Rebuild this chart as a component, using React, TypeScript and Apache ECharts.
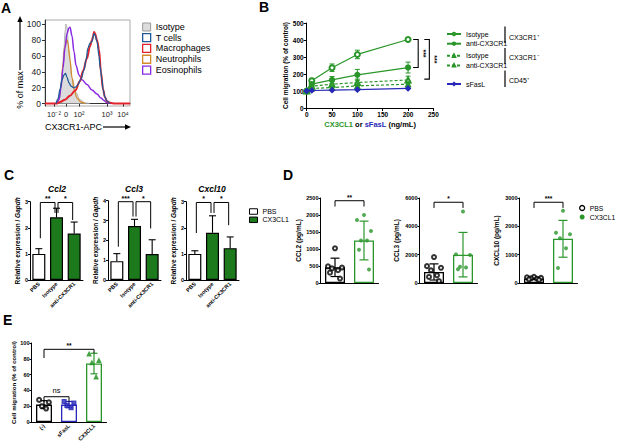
import React, { useEffect, useRef } from 'react';
import * as echarts from 'echarts';

const FONT = '"Liberation Sans", Arial, Helvetica, sans-serif';
const GREEN = '#2a962a';
const GREEN_FILL = '#1c7a1c';
const BLUE = '#2828b8';

// ---------- Panel A (flow histograms) ----------
const aTickPositions = [9, 21, 34, 62, 78];
const aTickLabels = ['10⁻²', '0', '10²', '10³', '10⁴'];
const aYTicks = [0, 20, 40, 60, 80, 100];
const aIsotype = [[11,0],[13,4],[15,12],[17,35],[19,70],[20,90],[21,100],[22,96],[24,65],[27,32],[31,14],[35,5],[40,1],[45,0]];
const aNeutrophils = [[12,0],[14,6],[16,22],[18,50],[20,72],[22,80],[23,76],[25,55],[27,33],[29,18],[32,7],[36,2],[40,0]];
const aEosinophils = [[12,0],[14,5],[16,20],[18,45],[20,70],[22,88],[24,95],[25,96],[27,85],[29,65],[31,48],[34,36],[37,30],[42,24],[47,17],[52,12],[56,7],[59,4],[62,1],[66,0]];
const aTcells = [[11,0],[13,6],[15,18],[17,30],[19,36],[20.5,38],[22,33],[24,26],[26,22],[29,20],[31,21],[33,24],[36,31],[39,42],[41,55],[43,70],[45,76],[47,78],[49,88],[50,86],[52,78],[54,60],[55,47],[57,30],[58,18],[60,8],[62,3],[65,0]];
const aMacrophages = [[0,0],[12,0],[15,2],[20,5],[25,10],[30,16],[35,28],[38,41],[42,57],[45,72],[47,80],[48,84],[49,90],[50,88],[52,80],[54,68],[56,39],[58,18],[60,8],[62,3],[65,1],[70,0],[85,0]];

// ---------- Panel B (migration dose response) ----------
const bDoses = [0, 10, 50, 100, 200];
const bIsoPos = [100, 160, 237, 315, 403];
const bIsoPosErr = [5, 15, 22, 25, 8];
const bAntiPos = [100, 140, 165, 195, 238];
const bAntiPosErr = [5, 12, 20, 32, 32];
const bIsoNeg = [100, 128, 140, 150, 165];
const bIsoNegErr = [5, 12, 18, 20, 22];
const bAntiNeg = [100, 115, 120, 130, 140];
const bAntiNegErr = [5, 10, 15, 18, 18];
const bSFasL = [100, 103, 105, 108, 115];
const bSFasLErr = [3, 3, 3, 5, 4];
const bBrackets = [[210, 220, 403, 238], [232, 242, 403, 170]];
const bBracketLabels = ['***', '***'];

// ---------- Panel C (qPCR) ----------
const cCats = ['PBS', 'Isotype', 'anti-CX3CR1'];
const cTitles = ['Ccl2', 'Ccl3', 'Cxcl10'];
const cMax = [3, 4, 3];
const ccl2Mean = [1.0, 2.4, 1.78];
const ccl2Err = [0.2, 0.35, 0.44];
const ccl3Mean = [0.95, 2.72, 1.31];
const ccl3Err = [0.38, 0.34, 0.72];
const cxcl10Mean = [1.0, 1.81, 1.22];
const cxcl10Err = [0.12, 0.65, 0.43];
const cSig = [
  [[0, 1, 2.97, 1.6, 2.57], [1, 2, 2.97, 2.57, 2.3]],
  [[0, 1, 3.95, 1.68, 3.2], [1, 2, 3.95, 3.2, 2.6]],
  [[0, 1, 2.97, 1.8, 2.57], [1, 2, 2.97, 2.57, 2.1]],
];
const cSigLabels = [['**', '*'], ['***', '*'], ['*', '*']];

// ---------- Panel D (ELISA) ----------
const dCats = ['PBS', 'CX3CL1'];
const dNames = ['CCL2 (pg/mL)', 'CCL3 (pg/mL)', 'CXCL10 (pg/mL)'];
const dMax = [2500, 6000, 3000];
const dInterval = [500, 2000, 1000];
const ccl2PBS = [1020, 490, 455, 430, 375, 305, 130];
const ccl2CX = [2000, 1850, 1530, 1250, 1250, 980, 400];
const ccl3PBS = [1830, 1190, 1070, 900, 545, 430, 140];
const ccl3CX = [5050, 2020, 1970, 1140, 1090, 970];
const cxcl10PBS = [220, 200, 180, 165, 150, 130, 110];
const cxcl10CX = [2550, 1770, 1720, 1580, 1230, 530];
const dMeans = [[460, 1250], [780, 2000], [160, 1560]];
const dSD = [[270, 570], [570, 1570], [40, 650]];
const dSig = [[0, 1, 2420, 2250, 2250], [0, 1, 5700, 5300, 5300], [0, 1, 2850, 2650, 2650]];
const dSigLabels = ['**', '*', '***'];

// ---------- Panel E (migration) ----------
const eCats = ['(-)', 'sFasL', 'CX3CL1'];
const eMean = [22, 22, 74];
const eErr = [5, 4, 13];
const ePtsNone = [28, 25, 20, 17];
const ePtsSFasL = [26, 24, 21, 18];
const ePtsCX = [86, 78, 75, 57];
const eSig = [[0, 2, 92, 81, 87], [0, 1, 32, 25.5, 25.5]];
const eSigLabels = ['**', 'ns'];

const JITTER = [0, -7, 7, -3, 3, -5, 5];

function errorSeries(g: number, xs: number[], means: number[], errs: number[], colors: string[], cap: number, both: boolean, width = 1) {
  return {
    type: 'custom', xAxisIndex: g, yAxisIndex: g, silent: true, z: 4,
    data: xs.map((x, i) => [x, both ? means[i] - errs[i] : means[i], means[i] + errs[i]]),
    renderItem: (params: any, api: any) => {
      const x = api.value(0);
      const lo = api.coord([x, api.value(1)]);
      const hi = api.coord([x, api.value(2)]);
      const c = colors[params.dataIndex % colors.length];
      const st = { stroke: c, lineWidth: width };
      const h = cap / 2;
      const ch: any[] = [
        { type: 'line', shape: { x1: hi[0], y1: hi[1], x2: lo[0], y2: lo[1] }, style: st },
        { type: 'line', shape: { x1: hi[0] - h, y1: hi[1], x2: hi[0] + h, y2: hi[1] }, style: st },
      ];
      if (both) ch.push({ type: 'line', shape: { x1: lo[0] - h, y1: lo[1], x2: lo[0] + h, y2: lo[1] }, style: st });
      return { type: 'group', children: ch };
    },
  };
}

function bracketSeries(g: number, items: number[][], labels: string[], fontSize: number, inset: number, bold = true) {
  return {
    type: 'custom', xAxisIndex: g, yAxisIndex: g, silent: true, z: 6,
    data: items,
    renderItem: (params: any, api: any) => {
      const a = api.value(0), b = api.value(1), top = api.value(2), la = api.value(3), lb = api.value(4);
      const pA = api.coord([a, top]);
      const pB = api.coord([b, top]);
      const yLA = api.coord([a, la])[1];
      const yLB = api.coord([b, lb])[1];
      const xa = pA[0] + inset, xb = pB[0] - inset;
      const lab = labels[params.dataIndex];
      const isNs = lab === 'ns';
      return {
        type: 'group', children: [
          { type: 'polyline', shape: { points: [[xa, yLA], [xa, pA[1]], [xb, pB[1]], [xb, yLB]] }, style: { stroke: '#000', lineWidth: 1, fill: 'none' } },
          { type: 'text', x: (xa + xb) / 2, y: pA[1] - (isNs ? 2 : 0), style: { text: lab, align: 'center', verticalAlign: 'bottom', fontSize: isNs ? 7.5 : fontSize, fontWeight: (bold && !isNs) ? 'bold' : 'normal', fill: '#000', fontFamily: FONT } },
        ],
      };
    },
  };
}

function buildOption(): any {
  const grids: any[] = [
    { left: 45, top: 20, width: 85, height: 86, show: true, borderColor: '#aaa', borderWidth: 1 },
    { left: 306.7, top: 23, width: 126.7, height: 85 },
    { left: 30, top: 201.7, width: 53, height: 78.3 },
    { left: 108, top: 200.7, width: 53, height: 79.3 },
    { left: 186, top: 201.7, width: 53, height: 78.3 },
    { left: 320.5, top: 198, width: 58, height: 85 },
    { left: 419.5, top: 198, width: 58, height: 85 },
    { left: 519.5, top: 198, width: 58, height: 85 },
    { left: 31.5, top: 343, width: 75, height: 79 },
  ].map(g => ({ ...g, containLabel: false, outerBoundsMode: 'none' }));

  const axLine = { lineStyle: { color: '#000', width: 1 } };
  const plain = (v: number) => String(v);
  const boldLbl = (fs: number, extra: any = {}) => ({ fontSize: fs, fontWeight: 'bold', color: '#000', fontFamily: FONT, margin: 3, ...extra });

  const xAxis: any[] = [
    {
      gridIndex: 0, type: 'value', min: 0, max: 85, axisLine: { lineStyle: { color: '#333' } },
      axisTick: { customValues: aTickPositions, length: 3, lineStyle: { color: '#333' } },
      axisLabel: { customValues: aTickPositions, formatter: (v: number) => { const i = aTickPositions.indexOf(v); return i >= 0 ? aTickLabels[i] : ''; }, fontSize: 7.5, color: '#222', margin: 4, fontFamily: FONT },
      splitLine: { show: false },
    },
    {
      gridIndex: 1, type: 'value', min: 0, max: 250, interval: 50, axisLine: axLine,
      axisTick: { length: 3, lineStyle: { color: '#000' } }, axisLabel: boldLbl(6.5, { formatter: plain }), splitLine: { show: false },
      name: '{g|CX3CL1} or {b|sFasL} (ng/mL)', nameLocation: 'middle', nameGap: 12,
      nameTextStyle: { fontSize: 7.5, fontWeight: 'bold', color: '#000', fontFamily: FONT,
        rich: { g: { color: GREEN, fontSize: 7.5, fontWeight: 'bold', fontFamily: FONT }, b: { color: BLUE, fontSize: 7.5, fontWeight: 'bold', fontFamily: FONT } } },
    },
  ];
  for (let k = 0; k < 3; k++) {
    xAxis.push({
      gridIndex: 2 + k, type: 'category', data: cCats, axisLine: axLine,
      axisTick: { alignWithLabel: true, length: 2, lineStyle: { color: '#000' } },
      axisLabel: boldLbl(5.5, { rotate: 45, interval: 0 }),
    });
  }
  for (let k = 0; k < 3; k++) {
    xAxis.push({
      gridIndex: 5 + k, type: 'category', data: dCats, axisLine: axLine,
      axisTick: { alignWithLabel: true, length: 3, lineStyle: { color: '#000' } },
      axisLabel: { show: false },
    });
  }
  xAxis.push({
    gridIndex: 8, type: 'category', data: eCats, axisLine: axLine,
    axisTick: { alignWithLabel: true, length: 2, lineStyle: { color: '#000' } },
    axisLabel: boldLbl(5.5, { rotate: 45, interval: 0 }),
  });

  const yAxis: any[] = [
    {
      gridIndex: 0, type: 'value', min: -3, max: 105, axisLine: { show: true, lineStyle: { color: '#333' } },
      axisTick: { show: true, customValues: aYTicks, length: 3, lineStyle: { color: '#333' } },
      axisLabel: { customValues: aYTicks, fontSize: 8.5, color: '#222', margin: 4, fontFamily: FONT },
      splitLine: { show: false },
    },
    {
      gridIndex: 1, type: 'value', min: 0, max: 500, interval: 100, axisLine: { show: true, ...axLine },
      axisTick: { show: true, length: 3, lineStyle: { color: '#000' } }, axisLabel: boldLbl(6.5, { formatter: plain }), splitLine: { show: false },
      name: 'Cell migration (% of control)', nameLocation: 'middle', nameGap: 17, nameRotate: 90,
      nameTextStyle: { fontSize: 6.5, fontWeight: 'bold', color: '#000', fontFamily: FONT },
    },
  ];
  for (let k = 0; k < 3; k++) {
    yAxis.push({
      gridIndex: 2 + k, type: 'value', min: 0, max: cMax[k], interval: 1, axisLine: { show: true, ...axLine },
      axisTick: { show: true, length: 2, lineStyle: { color: '#000' } }, axisLabel: boldLbl(5.5, { margin: 2 }), splitLine: { show: false },
      name: 'Relative expression / {i|Gapdh}', nameLocation: 'middle', nameGap: 6, nameRotate: 90,
      nameTextStyle: { fontSize: 6.5, fontWeight: 'bold', color: '#000', fontFamily: FONT,
        rich: { i: { fontSize: 6.5, fontWeight: 'bold', fontStyle: 'italic', fontFamily: FONT } } },
    });
  }
  const dGaps = [10.5, 19.5, 19.5];
  for (let k = 0; k < 3; k++) {
    yAxis.push({
      gridIndex: 5 + k, type: 'value', min: 0, max: dMax[k], interval: dInterval[k], axisLine: { show: true, ...axLine },
      axisTick: { show: true, length: 2, lineStyle: { color: '#000' } }, axisLabel: boldLbl(5.5, { margin: 2, formatter: plain }), splitLine: { show: false },
      name: dNames[k], nameLocation: 'middle', nameGap: dGaps[k], nameRotate: 90,
      nameTextStyle: { fontSize: 6.5, fontWeight: 'bold', color: '#000', fontFamily: FONT },
    });
  }
  yAxis.push({
    gridIndex: 8, type: 'value', min: 0, max: 100, interval: 20, axisLine: { show: true, ...axLine },
    axisTick: { show: true, length: 2, lineStyle: { color: '#000' } }, axisLabel: boldLbl(5.5, { margin: 2 }), splitLine: { show: false },
    name: 'Cell migration (% of control)', nameLocation: 'middle', nameGap: 15.5, nameRotate: 90,
    nameTextStyle: { fontSize: 6.2, fontWeight: 'bold', color: '#000', fontFamily: FONT },
  });

  const series: any[] = [];
  // Panel A
  const aLine = (name: string, data: number[][], color: string, width: number, area?: string) => ({
    type: 'line', name, xAxisIndex: 0, yAxisIndex: 0, data, smooth: 0.35, smoothMonotone: 'x', symbol: 'none', showSymbol: false,
    lineStyle: { color, width }, itemStyle: { color }, areaStyle: area ? { color: area, opacity: 1 } : undefined, silent: true,
  });
  series.push(aLine('Isotype', aIsotype, '#a8a8a8', 0.8, '#dcdcdc'));
  series.push(aLine('Neutrophils', aNeutrophils, '#d38b2c', 1.3));
  series.push(aLine('Eosinophils', aEosinophils, '#8a2be2', 1.5));
  series.push(aLine('Macrophages', aMacrophages, '#e3232b', 2));
  series.push(aLine('T cells', aTcells, '#1f5b99', 1.3));

  // Panel B
  const bLine = (name: string, ys: number[], color: string, symbol: string, dashed: boolean) => ({
    type: 'line', name, xAxisIndex: 1, yAxisIndex: 1, data: bDoses.map((d, i) => [d, ys[i]]),
    symbol, symbolSize: 5, showSymbol: true, z: 5,
    lineStyle: { color, width: 1.2, type: dashed ? [3, 2] : 'solid' },
    itemStyle: { color, borderColor: color, borderWidth: 1.2 },
  });
  series.push(errorSeries(1, bDoses, bIsoPos, bIsoPosErr, [GREEN], 5, true));
  series.push(errorSeries(1, bDoses, bAntiPos, bAntiPosErr, [GREEN], 5, true));
  series.push(errorSeries(1, bDoses, bIsoNeg, bIsoNegErr, [GREEN], 5, true));
  series.push(errorSeries(1, bDoses, bAntiNeg, bAntiNegErr, [GREEN], 5, true));
  series.push(errorSeries(1, bDoses, bSFasL, bSFasLErr, [BLUE], 4, true));
  series.push(bLine('Isotype ', bIsoPos, GREEN, 'emptyCircle', false));
  series.push(bLine('anti-CX3CR1', bAntiPos, GREEN, 'circle', false));
  series.push(bLine('Isotype  ', bIsoNeg, GREEN, 'emptyTriangle', true));
  series.push(bLine('anti-CX3CR1 ', bAntiNeg, GREEN, 'triangle', true));
  series.push(bLine('sFasL', bSFasL, BLUE, 'diamond', false));
  series.push({
    type: 'custom', xAxisIndex: 1, yAxisIndex: 1, silent: true, z: 6, data: bBrackets,
    renderItem: (params: any, api: any) => {
      const pTL = api.coord([api.value(0), api.value(2)]);
      const pTR = api.coord([api.value(1), api.value(2)]);
      const pBR = api.coord([api.value(1), api.value(3)]);
      const pBL = api.coord([api.value(0), api.value(3)]);
      return {
        type: 'group', children: [
          { type: 'polyline', shape: { points: [pTL, pTR, pBR, pBL] }, style: { stroke: '#000', lineWidth: 1.1, fill: 'none' } },
          { type: 'text', x: pTR[0] + 5, y: (pTR[1] + pBR[1]) / 2, rotation: -Math.PI / 2,
            style: { text: bBracketLabels[params.dataIndex], align: 'center', verticalAlign: 'middle', fontSize: 7, fontWeight: 'bold', fill: '#000', fontFamily: FONT } },
        ],
      };
    },
  });

  // Panel C
  const cMeans = [ccl2Mean, ccl3Mean, cxcl10Mean];
  const cErrs = [ccl2Err, ccl3Err, cxcl10Err];
  for (let k = 0; k < 3; k++) {
    const g = 2 + k;
    const m = cMeans[k];
    series.push(errorSeries(g, [0, 1, 2], m, cErrs[k], ['#000'], 7, false, 1.1));
    series.push({ type: 'bar', name: 'PBS', xAxisIndex: g, yAxisIndex: g, data: [m[0], '-', '-'], barWidth: 13, barGap: '-100%', z: 3,
      itemStyle: { color: '#fff', borderColor: '#000', borderWidth: 1.2 } });
    series.push({ type: 'bar', name: 'CX3CL1', xAxisIndex: g, yAxisIndex: g, data: ['-', m[1], m[2]], barWidth: 13, barGap: '-100%', z: 3,
      itemStyle: { color: GREEN_FILL, borderColor: '#000', borderWidth: 1.2 } });
    series.push(bracketSeries(g, cSig[k], cSigLabels[k], 7, 1.5));
  }

  // Panel D
  const dPts = [[ccl2PBS, ccl2CX], [ccl3PBS, ccl3CX], [cxcl10PBS, cxcl10CX]];
  for (let k = 0; k < 3; k++) {
    const g = 5 + k;
    series.push({ type: 'bar', name: 'ELISA', xAxisIndex: g, yAxisIndex: g, barWidth: 20, z: 2,
      data: [
        { value: dMeans[k][0], itemStyle: { color: '#fff', borderColor: '#000', borderWidth: 1.3 } },
        { value: dMeans[k][1], itemStyle: { color: '#fff', borderColor: GREEN, borderWidth: 1.3 } },
      ] });
    series.push(errorSeries(g, [0, 1], dMeans[k], dSD[k], ['#000', GREEN], 9, true, 1.2));
    series.push({ type: 'scatter', name: 'PBS', xAxisIndex: g, yAxisIndex: g, symbol: 'emptyCircle', symbolSize: 4, z: 5,
      itemStyle: { color: '#000', borderColor: '#000', borderWidth: 1.1 },
      data: dPts[k][0].map((v, i) => ({ value: [0, v], symbolOffset: [JITTER[i % JITTER.length], 0] })) });
    series.push({ type: 'scatter', name: 'CX3CL1', xAxisIndex: g, yAxisIndex: g, symbol: 'circle', symbolSize: 4, z: 5,
      itemStyle: { color: GREEN },
      data: dPts[k][1].map((v, i) => ({ value: [1, v], symbolOffset: [JITTER[i % JITTER.length], 0] })) });
    series.push(bracketSeries(g, [dSig[k]], [dSigLabels[k]], 6.5, 0));
  }

  // Panel E
  const eColors = ['#000', BLUE, GREEN];
  series.push({ type: 'bar', name: 'E', xAxisIndex: 8, yAxisIndex: 8, barWidth: 16, z: 2,
    data: eMean.map((v, i) => ({ value: v, itemStyle: { color: '#fff', borderColor: eColors[i], borderWidth: 1.3 } })) });
  series.push(errorSeries(8, [0, 1, 2], eMean, eErr, eColors, 7, true, 1.2));
  const ePts = [ePtsNone, ePtsSFasL, ePtsCX];
  const eSym = ['emptyCircle', 'rect', 'triangle'];
  for (let c = 0; c < 3; c++) {
    series.push({ type: 'scatter', name: 'E pts', xAxisIndex: 8, yAxisIndex: 8, symbol: eSym[c], symbolSize: 4, z: 5,
      itemStyle: { color: eColors[c], borderColor: eColors[c], borderWidth: 1.1 },
      data: ePts[c].map((v, i) => ({ value: [c, v], symbolOffset: [JITTER[(i + 1) % 5] * 0.7, 0] })) });
  }
  series.push(bracketSeries(8, eSig, eSigLabels, 6.5, 0));

  const legend: any[] = [
    {
      left: 137, top: 17.5, orient: 'vertical', itemWidth: 8, itemHeight: 8, itemGap: 1.5, selectedMode: false,
      textStyle: { fontSize: 9, color: '#000', fontFamily: FONT },
      data: [
        { name: 'Isotype', icon: 'rect', itemStyle: { color: '#dcdcdc', borderColor: '#999', borderWidth: 1 } },
        { name: 'T cells', icon: 'rect', itemStyle: { color: '#fff', borderColor: '#1f5b99', borderWidth: 1.3 } },
        { name: 'Macrophages', icon: 'rect', itemStyle: { color: '#fff', borderColor: '#e3232b', borderWidth: 1.3 } },
        { name: 'Neutrophils', icon: 'rect', itemStyle: { color: '#fff', borderColor: '#d38b2c', borderWidth: 1.3 } },
        { name: 'Eosinophils', icon: 'rect', itemStyle: { color: '#fff', borderColor: '#8a2be2', borderWidth: 1.3 } },
      ],
    },
    { left: 441, top: 25.5, orient: 'vertical', itemWidth: 14, itemHeight: 3, itemGap: 2.7, selectedMode: false,
      textStyle: { fontSize: 7, color: '#000', fontFamily: FONT }, data: ['Isotype ', 'anti-CX3CR1'] },
    { left: 441, top: 47.2, orient: 'vertical', itemWidth: 14, itemHeight: 3, itemGap: 2.7, selectedMode: false,
      textStyle: { fontSize: 7, color: '#000', fontFamily: FONT }, data: ['Isotype  ', 'anti-CX3CR1 '] },
    { left: 441, top: 75.5, orient: 'vertical', itemWidth: 14, itemHeight: 3, itemGap: 2.7, selectedMode: false,
      textStyle: { fontSize: 7, color: '#000', fontFamily: FONT }, data: ['sFasL'] },
    { left: 244, top: 203, orient: 'vertical', itemWidth: 8, itemHeight: 5.5, itemGap: 1.3, selectedMode: false,
      textStyle: { fontSize: 7, color: '#000', fontFamily: FONT },
      data: [
        { name: 'PBS', icon: 'rect', itemStyle: { color: '#fff', borderColor: '#000', borderWidth: 1 } },
        { name: 'CX3CL1', icon: 'rect', itemStyle: { color: GREEN_FILL, borderColor: '#000', borderWidth: 1 } },
      ] },
    { left: 574, top: 199.5, orient: 'vertical', itemWidth: 5, itemHeight: 5, itemGap: 2, selectedMode: false,
      textStyle: { fontSize: 6.8, color: '#000', fontFamily: FONT },
      data: [
        { name: 'PBS', icon: 'circle', itemStyle: { color: '#fff', borderColor: '#000', borderWidth: 1.3 } },
        { name: 'CX3CL1', icon: 'circle', itemStyle: { color: GREEN, borderColor: GREEN, borderWidth: 0 } },
      ] },
  ];

  const letter = (t: string, x: number, y: number) => ({ type: 'text', x, y, silent: true,
    style: { text: t, fontSize: 14, fontWeight: 'bold', fill: '#000', fontFamily: FONT, align: 'left', verticalAlign: 'top' } });
  const txt = (t: string, x: number, y: number, fs: number, extra: any = {}, rot = 0) => ({ type: 'text', x, y, rotation: rot, silent: true,
    style: { text: t, fontSize: fs, fill: '#000', fontFamily: FONT, align: 'left', verticalAlign: 'middle', ...extra } });
  const ln = (x1: number, y1: number, x2: number, y2: number, w = 1) => ({ type: 'line', silent: true,
    shape: { x1, y1, x2, y2 }, style: { stroke: '#000', lineWidth: w } });
  const tri = (pts: number[][]) => ({ type: 'polygon', silent: true, shape: { points: pts }, style: { fill: '#000' } });

  const cTitleX = [57, 134, 212];
  const graphic: any[] = [
    letter('A', 1, 1), letter('B', 259, 0), letter('C', 4, 168), letter('D', 283, 168), letter('E', 3, 313),
    txt('% of max', 20, 90, 9, { align: 'center' }, Math.PI / 2),
    ln(20, 70, 20, 21, 1.2), tri([[17.3, 22], [22.7, 22], [20, 16]]),
    txt('CX3CR1-APC', 45, 127, 9),
    ln(103, 127, 126, 127, 1.2), tri([[125, 124.3], [125, 129.7], [131, 127]]),
    ln(505, 26.5, 505, 43, 1.2), txt('CX3CR1⁺', 509, 37, 7),
    ln(505, 48, 505, 64, 1.2), txt('CX3CR1⁻', 509, 57, 7),
    ln(505, 70.5, 505, 87, 1.2), txt('CD45⁺', 509, 80.5, 7),
    ...cTitles.map((t, i) => txt(t, cTitleX[i], 189, 8.5, { align: 'center', fontWeight: 'bold', fontStyle: 'italic' })),
  ];

  return {
    animation: false,
    backgroundColor: '#fff',
    textStyle: { fontFamily: FONT },
    grid: grids,
    xAxis,
    yAxis,
    legend,
    series,
    graphic,
  };
}

export default function App() {
  const ref = useRef<HTMLDivElement>(null);
  useEffect(() => {
    document.body.style.margin = '0';
    const chart = echarts.init(ref.current as HTMLDivElement, null, { renderer: 'svg', width: 617, height: 443 });
    chart.setOption(buildOption());
    return () => chart.dispose();
  }, []);
  return <div ref={ref} style={{ width: 617, height: 443, position: 'absolute', left: 0, top: 0, background: '#fff' }} />;
}
